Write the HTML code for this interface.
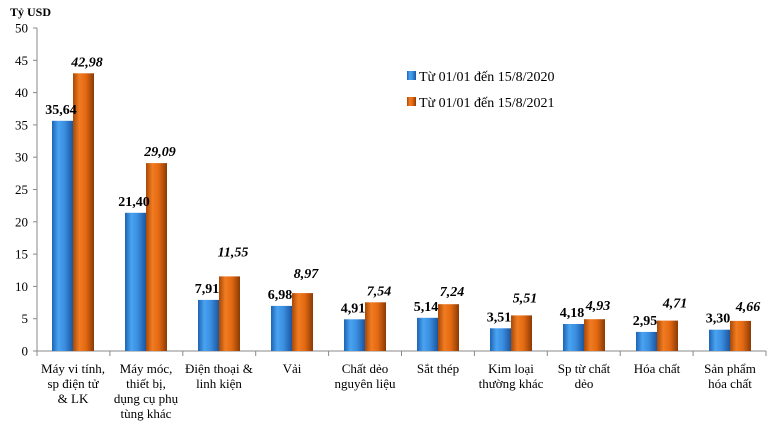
<!DOCTYPE html>
<html><head><meta charset="utf-8"><style>
body{margin:0;background:#fff}
svg{display:block;font-family:"Liberation Serif",serif}
</style></head><body>
<svg width="770" height="424" xmlns="http://www.w3.org/2000/svg">
<defs>
<linearGradient id="gb" x1="0" x2="1" y1="0" y2="0">
<stop offset="0" stop-color="#1d63b5"/><stop offset="0.3" stop-color="#4aa3f0"/><stop offset="0.6" stop-color="#3b8ee0"/><stop offset="1" stop-color="#1a56a0"/>
</linearGradient>
<linearGradient id="go" x1="0" x2="1" y1="0" y2="0">
<stop offset="0" stop-color="#a84806"/><stop offset="0.3" stop-color="#f07c22"/><stop offset="0.6" stop-color="#e56a12"/><stop offset="1" stop-color="#8a3a05"/>
</linearGradient>
</defs>
<text x="10" y="16" font-size="12" font-weight="bold">Tỷ USD</text>
<g font-size="13" text-anchor="end">
<text x="28" y="355.5">0</text><text x="28" y="323.2">5</text><text x="28" y="290.9">10</text><text x="28" y="258.6">15</text><text x="28" y="226.3">20</text><text x="28" y="194">25</text><text x="28" y="161.7">30</text><text x="28" y="129.4">35</text><text x="28" y="97.1">40</text><text x="28" y="64.8">45</text><text x="28" y="32.5">50</text>
</g>
<g stroke="#888">
<line x1="37" x2="37" y1="28" y2="351"/><line x1="37" x2="766" y1="351" y2="351"/>
<line x1="33" x2="37" y1="351" y2="351"/><line x1="33" x2="37" y1="318.7" y2="318.7"/><line x1="33" x2="37" y1="286.4" y2="286.4"/><line x1="33" x2="37" y1="254.1" y2="254.1"/><line x1="33" x2="37" y1="221.8" y2="221.8"/><line x1="33" x2="37" y1="189.5" y2="189.5"/><line x1="33" x2="37" y1="157.2" y2="157.2"/><line x1="33" x2="37" y1="124.9" y2="124.9"/><line x1="33" x2="37" y1="92.6" y2="92.6"/><line x1="33" x2="37" y1="60.3" y2="60.3"/><line x1="33" x2="37" y1="28" y2="28"/>
<line x1="37" x2="37" y1="351" y2="356"/><line x1="109.9" x2="109.9" y1="351" y2="356"/><line x1="182.8" x2="182.8" y1="351" y2="356"/><line x1="255.7" x2="255.7" y1="351" y2="356"/><line x1="328.6" x2="328.6" y1="351" y2="356"/><line x1="401.5" x2="401.5" y1="351" y2="356"/><line x1="474.4" x2="474.4" y1="351" y2="356"/><line x1="547.3" x2="547.3" y1="351" y2="356"/><line x1="620.2" x2="620.2" y1="351" y2="356"/><line x1="693.1" x2="693.1" y1="351" y2="356"/><line x1="766" x2="766" y1="351" y2="356"/>
</g>
<g fill="url(#gb)">
<rect x="52" y="120.8" width="21" height="230.2"/>
<rect x="125" y="212.8" width="21" height="138.2"/>
<rect x="198" y="299.9" width="21" height="51.1"/>
<rect x="271" y="305.9" width="21" height="45.1"/>
<rect x="344" y="319.3" width="21" height="31.7"/>
<rect x="417" y="317.8" width="21" height="33.2"/>
<rect x="490" y="328.3" width="21" height="22.7"/>
<rect x="563" y="324" width="21" height="27"/>
<rect x="636" y="331.9" width="21" height="19.1"/>
<rect x="709" y="329.7" width="21" height="21.3"/>
</g>
<g fill="url(#go)">
<rect x="73" y="73.3" width="21" height="277.7"/>
<rect x="146" y="163.1" width="21" height="187.9"/>
<rect x="219" y="276.4" width="21" height="74.6"/>
<rect x="292" y="293.1" width="21" height="57.9"/>
<rect x="365" y="302.3" width="21" height="48.7"/>
<rect x="438" y="304.2" width="21" height="46.8"/>
<rect x="511" y="315.4" width="21" height="35.6"/>
<rect x="584" y="319.2" width="21" height="31.8"/>
<rect x="657" y="320.6" width="21" height="30.4"/>
<rect x="730" y="320.9" width="21" height="30.1"/>
</g>
<g font-size="14" font-weight="bold" text-anchor="middle">
<text x="61" y="113.8">35,64</text>
<text x="134" y="205.8">21,40</text>
<text x="207" y="292.9">7,91</text>
<text x="280" y="298.9">6,98</text>
<text x="353" y="312.3">4,91</text>
<text x="426" y="310.8">5,14</text>
<text x="499" y="321.3">3,51</text>
<text x="572" y="317">4,18</text>
<text x="645" y="324.9">2,95</text>
<text x="718" y="322.7">3,30</text>
</g>
<g font-size="14" font-weight="bold" font-style="italic" text-anchor="middle">
<text x="87" y="66.3">42,98</text>
<text x="160" y="156.1">29,09</text>
<text x="233" y="256.4">11,55</text>
<text x="306" y="278.1">8,97</text>
<text x="379" y="295.3">7,54</text>
<text x="452" y="296.2">7,24</text>
<text x="525" y="302.4">5,51</text>
<text x="598" y="310.2">4,93</text>
<text x="675" y="307.6">4,71</text>
<text x="748" y="310.9">4,66</text>
</g>
<g font-size="13" text-anchor="middle">
<text x="73" y="373">Máy vi tính,</text><text x="73" y="388">sp điện tử</text><text x="73" y="403">&amp; LK</text>
<text x="146" y="373">Máy móc,</text><text x="146" y="388">thiết bị,</text><text x="146" y="403">dụng cụ phụ</text><text x="146" y="418">tùng khác</text>
<text x="219" y="373">Điện thoại &amp;</text><text x="219" y="388">linh kiện</text>
<text x="292" y="373">Vải</text>
<text x="365" y="373">Chất dẻo</text><text x="365" y="388">nguyên liệu</text>
<text x="438" y="373">Sắt thép</text>
<text x="511" y="373">Kim loại</text><text x="511" y="388">thường khác</text>
<text x="584" y="373">Sp từ chất</text><text x="584" y="388">dẻo</text>
<text x="657" y="373">Hóa chất</text>
<text x="730" y="373">Sản phẩm</text><text x="730" y="388">hóa chất</text>
</g>
<rect x="407" y="71" width="9" height="9" fill="url(#gb)"/>
<rect x="407" y="97" width="9" height="9" fill="url(#go)"/>
<text x="419" y="81" font-size="14">Từ 01/01 đến 15/8/2020</text>
<text x="419" y="107" font-size="14">Từ 01/01 đến 15/8/2021</text>
</svg>
</body></html>
